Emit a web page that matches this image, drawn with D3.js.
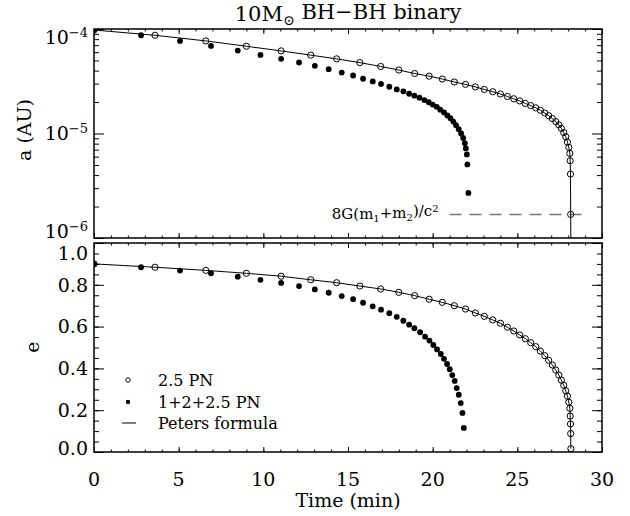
<!DOCTYPE html>
<html>
<head>
<meta charset="utf-8">
<script src="https://cdn.jsdelivr.net/npm/d3@7"></script>
<style>
body { margin: 0; background: #fff; }
text { font-family: "DejaVu Serif", serif; fill: #000; }
</style>
</head>
<body>
<svg id="chart" width="630" height="516"></svg>
<script>
// ---- data ----
// 2.5 PN run (open circles)
var openTimeA = [0, 3.6, 6.6, 9.0, 11.05, 12.8, 14.33, 15.7, 16.93, 18.0, 18.94, 19.79, 20.57, 21.28, 21.94, 22.52, 23.05, 23.55, 24.0, 24.41, 24.79, 25.14, 25.47, 25.79, 26.09, 26.36, 26.62, 26.85, 27.07, 27.27, 27.45, 27.6, 27.74, 27.86, 27.96, 28.04, 28.1, 28.12, 28.14, 28.15];
var openA = [9.78e-5, 8.71e-5, 7.69e-5, 6.84e-5, 6.17e-5, 5.62e-5, 5.18e-5, 4.77e-5, 4.38e-5, 4.05e-5, 3.75e-5, 3.54e-5, 3.32e-5, 3.11e-5, 2.95e-5, 2.79e-5, 2.64e-5, 2.51e-5, 2.39e-5, 2.26e-5, 2.15e-5, 2.05e-5, 1.94e-5, 1.85e-5, 1.76e-5, 1.67e-5, 1.57e-5, 1.48e-5, 1.39e-5, 1.30e-5, 1.21e-5, 1.12e-5, 1.02e-5, 9.31e-6, 8.26e-6, 7.36e-6, 6.45e-6, 5.49e-6, 4.09e-6, 1.68e-6];
var openTimeE = [0, 3.6, 6.6, 9.0, 11.05, 12.8, 14.33, 15.7, 16.93, 18.0, 18.94, 19.79, 20.57, 21.28, 21.94, 22.52, 23.05, 23.55, 24.0, 24.41, 24.79, 25.14, 25.47, 25.79, 26.09, 26.36, 26.62, 26.85, 27.07, 27.27, 27.45, 27.6, 27.74, 27.86, 27.96, 28.04, 28.1, 28.12, 28.14, 28.15, 28.16];
var openE = [0.900, 0.884, 0.869, 0.855, 0.841, 0.824, 0.810, 0.794, 0.780, 0.764, 0.748, 0.731, 0.716, 0.700, 0.684, 0.665, 0.649, 0.632, 0.616, 0.597, 0.579, 0.560, 0.542, 0.523, 0.504, 0.483, 0.461, 0.439, 0.416, 0.392, 0.368, 0.344, 0.319, 0.293, 0.267, 0.238, 0.209, 0.172, 0.134, 0.088, 0.016];

// 1+2+2.5 PN run (filled dots)
var filledTimeA = [0, 2.78, 5.08, 6.91, 8.49, 9.83, 11.05, 12.11, 13.04, 13.86, 14.63, 15.3, 15.89, 16.46, 16.95, 17.44, 17.88, 18.27, 18.61, 18.92, 19.22, 19.51, 19.77, 20.0, 20.24, 20.45, 20.67, 20.87, 21.05, 21.22, 21.38, 21.54, 21.68, 21.8, 21.9, 21.96, 22.02, 22.05, 22.11];
var filledA = [9.78e-5, 8.71e-5, 7.69e-5, 6.89e-5, 6.21e-5, 5.65e-5, 5.18e-5, 4.78e-5, 4.44e-5, 4.13e-5, 3.83e-5, 3.59e-5, 3.34e-5, 3.15e-5, 2.98e-5, 2.80e-5, 2.64e-5, 2.53e-5, 2.40e-5, 2.30e-5, 2.20e-5, 2.09e-5, 1.99e-5, 1.89e-5, 1.80e-5, 1.69e-5, 1.59e-5, 1.49e-5, 1.40e-5, 1.30e-5, 1.20e-5, 1.10e-5, 1.00e-5, 9.06e-6, 8.08e-6, 7.2e-6, 6.31e-6, 5.06e-6, 2.7e-6];
var filledTimeE = [0, 2.78, 5.08, 6.91, 8.49, 9.83, 11.05, 12.11, 13.04, 13.86, 14.63, 15.3, 15.89, 16.46, 16.95, 17.44, 17.88, 18.27, 18.61, 18.92, 19.26, 19.55, 19.81, 20.04, 20.26, 20.48, 20.67, 20.85, 21.01, 21.16, 21.3, 21.42, 21.54, 21.66, 21.76, 21.84];
var filledE = [0.900, 0.884, 0.868, 0.855, 0.839, 0.824, 0.809, 0.794, 0.778, 0.762, 0.746, 0.731, 0.714, 0.697, 0.681, 0.664, 0.647, 0.628, 0.609, 0.592, 0.573, 0.552, 0.533, 0.512, 0.491, 0.469, 0.446, 0.421, 0.396, 0.368, 0.340, 0.306, 0.274, 0.234, 0.187, 0.115];

// Peters formula curve ends at the merger time, dropping to the axis
var petersEndTime = 28.16;
var petersEndA = 1e-6;

// 8G(m1+m2)/c^2 level
var horizonA = 1.68e-6;
var horizonSpan = [21.0, 29.0];

// axis ticks
var xMajorTicks = [0, 5, 10, 15, 20, 25, 30];
var aMajorTicks = [1e-4, 1e-5, 1e-6];
var aExponents = ["\u22124", "\u22125", "\u22126"];
var eMajorTicks = [0, 0.2, 0.4, 0.6, 0.8, 1.0];

// ---- layout ----
var svg = d3.select("#chart");

var x = d3.scaleLinear().domain([0, 30]).range([94, 602]);
var yA = d3.scaleLog().domain([1e-6, 1e-4]).range([238, 29]);
var yE = d3.scaleLinear().domain([0, 1]).range([452, 243]);

var xMinorTicks = d3.range(0, 31, 1);
var aMinorTicks = [];
[1e-6, 1e-5].forEach(function(dec) {
  for (var k = 2; k <= 9; k++) aMinorTicks.push(k * dec);
});
var eMinorTicks = d3.range(0, 1.001, 0.05);

function noDomain(g) { g.select(".domain").remove(); }

function tickGroup(axis, tx, ty) {
  svg.append("g")
    .attr("transform", "translate(" + tx + "," + ty + ")")
    .call(axis)
    .call(noDomain)
    .selectAll("line").attr("stroke", "#000").attr("stroke-width", 1);
}

function panelFrame(y, majors, minors) {
  var top = y.range()[1], bot = y.range()[0];
  var left = x.range()[0], right = x.range()[1];

  // x ticks on bottom and top edges, pointing inward
  tickGroup(d3.axisBottom(x).tickValues(xMinorTicks).tickSize(-2.5).tickFormat(""), 0, bot);
  tickGroup(d3.axisBottom(x).tickValues(xMajorTicks).tickSize(-5).tickFormat(""), 0, bot);
  tickGroup(d3.axisTop(x).tickValues(xMinorTicks).tickSize(-2.5).tickFormat(""), 0, top);
  tickGroup(d3.axisTop(x).tickValues(xMajorTicks).tickSize(-5).tickFormat(""), 0, top);

  // y ticks on left and right edges
  tickGroup(d3.axisLeft(y).tickValues(minors).tickSize(-5).tickFormat(""), left, 0);
  tickGroup(d3.axisLeft(y).tickValues(majors).tickSize(-10).tickFormat(""), left, 0);
  tickGroup(d3.axisRight(y).tickValues(minors).tickSize(-5).tickFormat(""), right, 0);
  tickGroup(d3.axisRight(y).tickValues(majors).tickSize(-10).tickFormat(""), right, 0);

  svg.append("rect")
    .attr("x", left).attr("y", top)
    .attr("width", right - left).attr("height", bot - top)
    .attr("fill", "none").attr("stroke", "#000").attr("stroke-width", 1.5);
}

// clip paths for each panel
var defs = svg.append("defs");
[["clipA", yA], ["clipE", yE]].forEach(function(c) {
  defs.append("clipPath").attr("id", c[0]).append("rect")
    .attr("x", x.range()[0]).attr("y", c[1].range()[1])
    .attr("width", x.range()[1] - x.range()[0])
    .attr("height", c[1].range()[0] - c[1].range()[1]);
});

panelFrame(yA, aMajorTicks, aMinorTicks);
panelFrame(yE, eMajorTicks, eMinorTicks);

// ---- tick labels ----
// end labels sit a little inside the frame, as in the figure
var aLabelShift = [8, 0, -7];
aMajorTicks.forEach(function(v, i) {
  var t = svg.append("text")
    .attr("x", 88).attr("y", yA(v) + aLabelShift[i])
    .attr("dy", "0.36em")
    .attr("text-anchor", "end")
    .style("font-size", "19px");
  t.append("tspan").text("10");
  t.append("tspan").attr("dy", "-0.55em").style("font-size", "13px").text(aExponents[i]);
});

var eLabelShift = [-4, 0, 0, 0, 0, 10];
eMajorTicks.forEach(function(v, i) {
  svg.append("text")
    .attr("x", 88).attr("y", yE(v) + eLabelShift[i])
    .attr("dy", "0.36em")
    .attr("text-anchor", "end")
    .style("font-size", "19px")
    .text(d3.format(".1f")(v));
});

xMajorTicks.forEach(function(v) {
  svg.append("text")
    .attr("x", x(v)).attr("y", 486)
    .attr("text-anchor", "middle")
    .style("font-size", "19px")
    .text(v);
});

// ---- axis titles ----
svg.append("text")
  .attr("transform", "translate(31,130) rotate(-90)")
  .attr("text-anchor", "middle")
  .style("font-size", "19px")
  .text("a (AU)");

svg.append("text")
  .attr("transform", "translate(39,347) rotate(-90)")
  .attr("text-anchor", "middle")
  .style("font-size", "19px")
  .text("e");

svg.append("text")
  .attr("x", 348).attr("y", 507)
  .attr("text-anchor", "middle")
  .style("font-size", "19px")
  .text("Time (min)");

var title = svg.append("text")
  .attr("x", 348).attr("y", 21)
  .attr("text-anchor", "middle")
  .style("font-size", "21px");
title.append("tspan").text("10M");
title.append("tspan").attr("dy", "0.3em").style("font-size", "14px").text("\u2299");
title.append("tspan").attr("dy", "-0.3em").text(" BH\u2212BH binary");

// ---- top panel: semi-major axis ----
var gA = svg.append("g").attr("clip-path", "url(#clipA)");

gA.append("line")
  .attr("x1", x(horizonSpan[0])).attr("x2", x(horizonSpan[1]))
  .attr("y1", yA(horizonA)).attr("y2", yA(horizonA))
  .attr("stroke", "#777").attr("stroke-width", 1.5)
  .attr("stroke-dasharray", "12,8");

var lineA = d3.line()
  .x(function(d) { return x(d[0]); })
  .y(function(d) { return yA(d[1]); });
var petersA = d3.zip(openTimeA, openA).concat([[petersEndTime, petersEndA]]);
gA.append("path")
  .attr("d", lineA(petersA))
  .attr("fill", "none").attr("stroke", "#000").attr("stroke-width", 1);

gA.selectAll(".openA")
  .data(d3.zip(openTimeA, openA))
  .enter().append("circle")
  .attr("cx", function(d) { return x(d[0]); })
  .attr("cy", function(d) { return yA(d[1]); })
  .attr("r", 3.1)
  .attr("fill", "none").attr("stroke", "#000").attr("stroke-width", 1);

gA.selectAll(".filledA")
  .data(d3.zip(filledTimeA, filledA))
  .enter().append("circle")
  .attr("cx", function(d) { return x(d[0]); })
  .attr("cy", function(d) { return yA(d[1]); })
  .attr("r", 2.9)
  .attr("fill", "#000");

var ann = svg.append("text")
  .attr("x", x(horizonSpan[0]) - 11).attr("y", yA(horizonA) + 5)
  .attr("text-anchor", "end")
  .style("font-size", "15px");
ann.append("tspan").text("8G(m");
ann.append("tspan").attr("dy", "0.3em").style("font-size", "10px").text("1");
ann.append("tspan").attr("dy", "-0.3em").text("+m");
ann.append("tspan").attr("dy", "0.3em").style("font-size", "10px").text("2");
ann.append("tspan").attr("dy", "-0.3em").text(")/c");
ann.append("tspan").attr("dy", "-0.45em").style("font-size", "10px").text("2");

// ---- bottom panel: eccentricity ----
var gE = svg.append("g").attr("clip-path", "url(#clipE)");

var lineE = d3.line()
  .x(function(d) { return x(d[0]); })
  .y(function(d) { return yE(d[1]); });
gE.append("path")
  .attr("d", lineE(d3.zip(openTimeE, openE)))
  .attr("fill", "none").attr("stroke", "#000").attr("stroke-width", 1);

gE.selectAll(".openE")
  .data(d3.zip(openTimeE, openE))
  .enter().append("circle")
  .attr("cx", function(d) { return x(d[0]); })
  .attr("cy", function(d) { return yE(d[1]); })
  .attr("r", 3.1)
  .attr("fill", "none").attr("stroke", "#000").attr("stroke-width", 1);

gE.selectAll(".filledE")
  .data(d3.zip(filledTimeE, filledE))
  .enter().append("circle")
  .attr("cx", function(d) { return x(d[0]); })
  .attr("cy", function(d) { return yE(d[1]); })
  .attr("r", 2.9)
  .attr("fill", "#000");

// ---- legend ----
var legend = svg.append("g");
legend.append("circle").attr("cx", 128).attr("cy", 380).attr("r", 2.2)
  .attr("fill", "none").attr("stroke", "#000");
legend.append("circle").attr("cx", 128).attr("cy", 402).attr("r", 2.2)
  .attr("fill", "#000");
legend.append("line").attr("x1", 122).attr("x2", 136).attr("y1", 423).attr("y2", 423)
  .attr("stroke", "#000");
[["2.5 PN", 380], ["1+2+2.5 PN", 402], ["Peters formula", 423]].forEach(function(l) {
  legend.append("text")
    .attr("x", 158).attr("y", l[1]).attr("dy", "0.36em")
    .style("font-size", "16px")
    .text(l[0]);
});
</script>
</body>
</html>
